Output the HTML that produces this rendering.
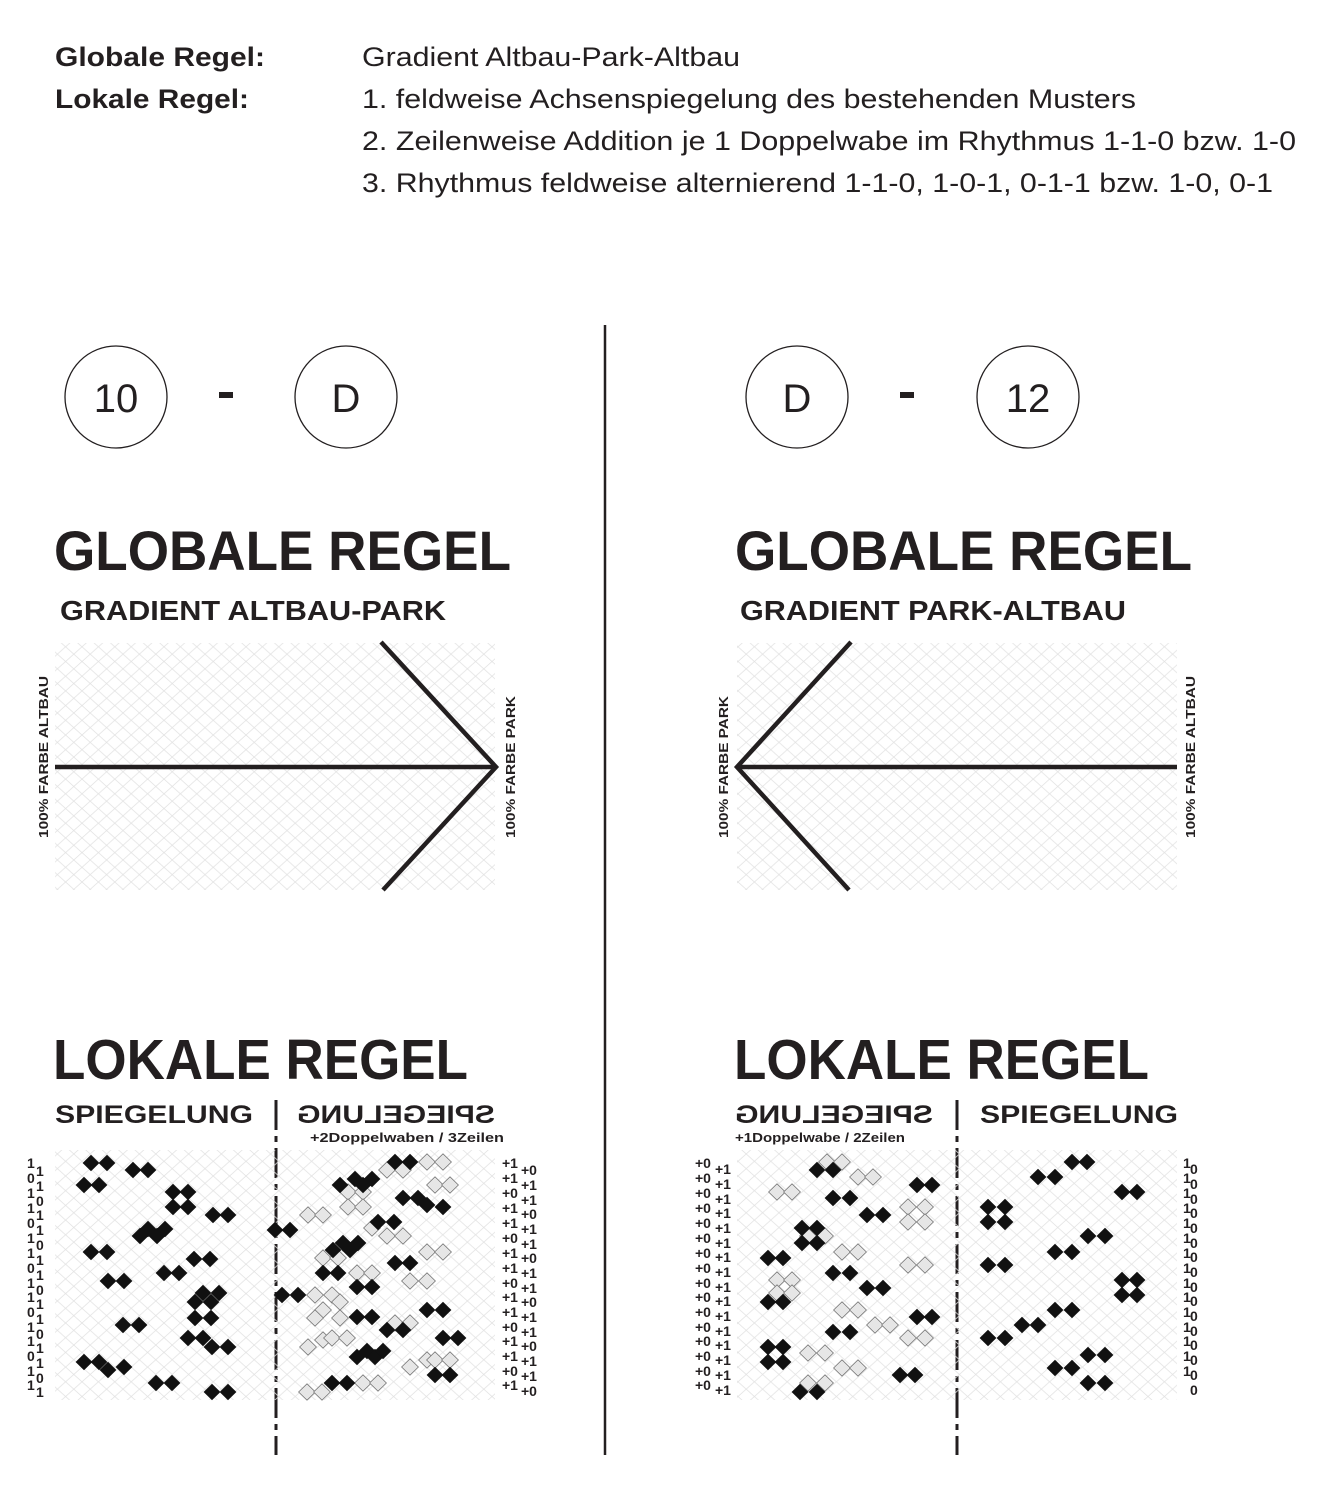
<!DOCTYPE html>
<html><head><meta charset="utf-8"><style>
html,body{margin:0;padding:0;background:#fff}
svg{display:block}
text{font-family:"Liberation Sans",Arial,sans-serif;fill:#231f20}
.b{font-weight:bold}
</style></head><body>
<svg width="1324" height="1500" viewBox="0 0 1324 1500" xmlns="http://www.w3.org/2000/svg">
<defs>
<pattern id="g" width="16.4" height="14.7" patternUnits="userSpaceOnUse">
<path d="M0,0 L16.4,14.7 M16.4,0 L0,14.7" stroke="#e2e2e2" stroke-width="0.8" fill="none"/>
</pattern>
<polygon id="d" points="0,-8.2 8.4,0 0,8.2 -8.4,0"/>
</defs>

<text class="b" x="55" y="66" font-size="27" textLength="210" lengthAdjust="spacingAndGlyphs">Globale Regel:</text>
<text class="b" x="55" y="108" font-size="27" textLength="194" lengthAdjust="spacingAndGlyphs">Lokale Regel:</text>
<text x="362" y="66" font-size="27" textLength="378" lengthAdjust="spacingAndGlyphs">Gradient Altbau-Park-Altbau</text>
<text x="362" y="108" font-size="27" textLength="774" lengthAdjust="spacingAndGlyphs">1. feldweise Achsenspiegelung des bestehenden Musters</text>
<text x="362" y="150" font-size="27" textLength="934" lengthAdjust="spacingAndGlyphs">2. Zeilenweise Addition je 1 Doppelwabe im Rhythmus 1-1-0 bzw. 1-0</text>
<text x="362" y="192" font-size="27" textLength="911" lengthAdjust="spacingAndGlyphs">3. Rhythmus feldweise alternierend 1-1-0, 1-0-1, 0-1-1 bzw. 1-0, 0-1</text>

<line x1="605" y1="325" x2="605" y2="1455" stroke="#231f20" stroke-width="2.5"/>

<g fill="none" stroke="#231f20" stroke-width="1.3">
<circle cx="116" cy="397" r="51"/><circle cx="346" cy="397" r="51"/>
<circle cx="797" cy="397" r="51"/><circle cx="1028" cy="397" r="51"/>
</g>
<g font-size="40" text-anchor="middle">
<text x="116" y="412">10</text><text x="346" y="412">D</text>
<text x="797" y="412">D</text><text x="1028" y="412">12</text>
</g>
<rect x="219" y="392" width="14" height="6" fill="#231f20"/>
<rect x="900" y="392" width="14" height="6" fill="#231f20"/>

<text class="b" x="54" y="570" font-size="56" textLength="457" lengthAdjust="spacingAndGlyphs">GLOBALE REGEL</text>
<text class="b" x="60" y="620" font-size="28" textLength="386" lengthAdjust="spacingAndGlyphs">GRADIENT ALTBAU-PARK</text>
<text class="b" x="735" y="570" font-size="56" textLength="457" lengthAdjust="spacingAndGlyphs">GLOBALE REGEL</text>
<text class="b" x="740" y="620" font-size="28" textLength="386" lengthAdjust="spacingAndGlyphs">GRADIENT PARK-ALTBAU</text>

<rect x="55" y="643" width="440" height="247" fill="url(#g)"/>
<rect x="737" y="643" width="440" height="247" fill="url(#g)"/>
<g stroke="#231f20" stroke-width="4.5" fill="none">
<line x1="55" y1="767" x2="495" y2="767"/>
<polyline points="381,642 496,767 383,890"/>
<line x1="737" y1="767" x2="1177" y2="767"/>
<polyline points="851,642 737,767 849,890"/>
</g>
<g class="b" font-size="12.5" font-weight="bold">
<text transform="translate(48,838) rotate(-90)" textLength="162" lengthAdjust="spacingAndGlyphs">100% FARBE ALTBAU</text>
<text transform="translate(515,838) rotate(-90)" textLength="142" lengthAdjust="spacingAndGlyphs">100% FARBE PARK</text>
<text transform="translate(728,838) rotate(-90)" textLength="142" lengthAdjust="spacingAndGlyphs">100% FARBE PARK</text>
<text transform="translate(1195,838) rotate(-90)" textLength="162" lengthAdjust="spacingAndGlyphs">100% FARBE ALTBAU</text>
</g>

<text class="b" x="53" y="1079" font-size="57" textLength="415" lengthAdjust="spacingAndGlyphs">LOKALE REGEL</text>
<text class="b" x="734" y="1079" font-size="57" textLength="415" lengthAdjust="spacingAndGlyphs">LOKALE REGEL</text>
<text class="b" x="55" y="1123" font-size="25" textLength="198" lengthAdjust="spacingAndGlyphs">SPIEGELUNG</text>
<text class="b" transform="translate(495,0) scale(-1,1)" x="0" y="1123" font-size="25" textLength="198" lengthAdjust="spacingAndGlyphs">SPIEGELUNG</text>
<text class="b" x="310" y="1142" font-size="12.5" textLength="194" lengthAdjust="spacingAndGlyphs">+2Doppelwaben / 3Zeilen</text>
<text class="b" transform="translate(933,0) scale(-1,1)" x="0" y="1123" font-size="25" textLength="198" lengthAdjust="spacingAndGlyphs">SPIEGELUNG</text>
<text class="b" x="735" y="1142" font-size="12.5" textLength="170" lengthAdjust="spacingAndGlyphs">+1Doppelwabe / 2Zeilen</text>
<text class="b" x="980" y="1123" font-size="25" textLength="198" lengthAdjust="spacingAndGlyphs">SPIEGELUNG</text>

<g stroke="#231f20" stroke-width="3" stroke-dasharray="30,6,6,6">
<line x1="276" y1="1100" x2="276" y2="1455"/>
<line x1="957" y1="1100" x2="957" y2="1455"/>
</g>

<rect x="55" y="1150" width="440" height="250" fill="url(#g)"/>
<rect x="737" y="1150" width="440" height="250" fill="url(#g)"/>

<g fill="#e6e6e6" stroke="#777" stroke-width="0.8">
<use href="#d" x="387" y="1170"/><use href="#d" x="403" y="1170"/><use href="#d" x="427" y="1162"/><use href="#d" x="443" y="1162"/>
<use href="#d" x="435" y="1185"/><use href="#d" x="450" y="1185"/>
<use href="#d" x="348" y="1192"/><use href="#d" x="363" y="1192"/><use href="#d" x="348" y="1207"/><use href="#d" x="363" y="1207"/>
<use href="#d" x="308" y="1215"/><use href="#d" x="323" y="1215"/>
<use href="#d" x="372" y="1228"/><use href="#d" x="387" y="1236"/><use href="#d" x="403" y="1236"/>
<use href="#d" x="427" y="1252"/><use href="#d" x="443" y="1252"/>
<use href="#d" x="323" y="1258"/><use href="#d" x="338" y="1258"/>
<use href="#d" x="357" y="1273"/><use href="#d" x="372" y="1273"/>
<use href="#d" x="410" y="1281"/><use href="#d" x="427" y="1281"/>
<use href="#d" x="315" y="1295"/><use href="#d" x="332" y="1295"/><use href="#d" x="340" y="1302"/><use href="#d" x="323" y="1310"/><use href="#d" x="340" y="1318"/><use href="#d" x="315" y="1318"/>
<use href="#d" x="395" y="1323"/><use href="#d" x="410" y="1323"/>
<use href="#d" x="308" y="1347"/><use href="#d" x="323" y="1340"/><use href="#d" x="332" y="1338"/><use href="#d" x="347" y="1338"/>
<use href="#d" x="410" y="1367"/><use href="#d" x="427" y="1360"/><use href="#d" x="435" y="1360"/><use href="#d" x="450" y="1360"/>
<use href="#d" x="363" y="1383"/><use href="#d" x="378" y="1383"/><use href="#d" x="307" y="1392"/><use href="#d" x="322" y="1392"/>

<use href="#d" x="827" y="1162"/><use href="#d" x="842" y="1162"/>
<use href="#d" x="858" y="1177"/><use href="#d" x="873" y="1177"/>
<use href="#d" x="777" y="1192"/><use href="#d" x="792" y="1192"/>
<use href="#d" x="908" y="1207"/><use href="#d" x="925" y="1207"/><use href="#d" x="908" y="1222"/><use href="#d" x="925" y="1222"/>
<use href="#d" x="808" y="1236"/><use href="#d" x="825" y="1236"/>
<use href="#d" x="842" y="1252"/><use href="#d" x="858" y="1252"/>
<use href="#d" x="908" y="1265"/><use href="#d" x="925" y="1265"/>
<use href="#d" x="777" y="1280"/><use href="#d" x="792" y="1280"/><use href="#d" x="777" y="1293"/><use href="#d" x="792" y="1293"/>
<use href="#d" x="842" y="1310"/><use href="#d" x="858" y="1310"/>
<use href="#d" x="875" y="1325"/><use href="#d" x="890" y="1325"/>
<use href="#d" x="908" y="1338"/><use href="#d" x="925" y="1338"/>
<use href="#d" x="808" y="1353"/><use href="#d" x="825" y="1353"/>
<use href="#d" x="842" y="1368"/><use href="#d" x="858" y="1368"/>
<use href="#d" x="808" y="1383"/><use href="#d" x="825" y="1383"/>
</g>

<g fill="#111">
<use href="#d" x="91" y="1163"/><use href="#d" x="107" y="1163"/>
<use href="#d" x="133" y="1170"/><use href="#d" x="148" y="1170"/>
<use href="#d" x="84" y="1185"/><use href="#d" x="99" y="1185"/>
<use href="#d" x="173" y="1192"/><use href="#d" x="188" y="1192"/><use href="#d" x="173" y="1207"/><use href="#d" x="188" y="1207"/>
<use href="#d" x="213" y="1215"/><use href="#d" x="228" y="1215"/>
<use href="#d" x="140" y="1236"/><use href="#d" x="148" y="1229"/><use href="#d" x="157" y="1236"/><use href="#d" x="165" y="1229"/>
<use href="#d" x="91" y="1252"/><use href="#d" x="107" y="1252"/>
<use href="#d" x="194" y="1259"/><use href="#d" x="210" y="1259"/>
<use href="#d" x="164" y="1273"/><use href="#d" x="179" y="1273"/>
<use href="#d" x="108" y="1281"/><use href="#d" x="124" y="1281"/>
<use href="#d" x="203" y="1293"/><use href="#d" x="219" y="1293"/><use href="#d" x="195" y="1302"/><use href="#d" x="211" y="1302"/><use href="#d" x="195" y="1318"/><use href="#d" x="211" y="1318"/>
<use href="#d" x="123" y="1325"/><use href="#d" x="139" y="1325"/>
<use href="#d" x="188" y="1338"/><use href="#d" x="203" y="1338"/><use href="#d" x="212" y="1347"/><use href="#d" x="228" y="1347"/>
<use href="#d" x="84" y="1362"/><use href="#d" x="99" y="1362"/><use href="#d" x="108" y="1370"/><use href="#d" x="124" y="1367"/>
<use href="#d" x="156" y="1383"/><use href="#d" x="172" y="1383"/>
<use href="#d" x="212" y="1392"/><use href="#d" x="228" y="1392"/>

<use href="#d" x="395" y="1162"/><use href="#d" x="410" y="1162"/>
<use href="#d" x="340" y="1185"/><use href="#d" x="355" y="1179"/><use href="#d" x="363" y="1185"/><use href="#d" x="372" y="1179"/>
<use href="#d" x="403" y="1198"/><use href="#d" x="418" y="1198"/><use href="#d" x="427" y="1205"/><use href="#d" x="443" y="1207"/>
<use href="#d" x="378" y="1222"/><use href="#d" x="394" y="1222"/>
<use href="#d" x="275" y="1230"/><use href="#d" x="290" y="1230"/>
<use href="#d" x="333" y="1250"/><use href="#d" x="343" y="1243"/><use href="#d" x="350" y="1250"/><use href="#d" x="358" y="1243"/>
<use href="#d" x="395" y="1263"/><use href="#d" x="410" y="1263"/>
<use href="#d" x="323" y="1273"/><use href="#d" x="338" y="1273"/>
<use href="#d" x="357" y="1287"/><use href="#d" x="372" y="1287"/>
<use href="#d" x="282" y="1295"/><use href="#d" x="298" y="1295"/>
<use href="#d" x="427" y="1310"/><use href="#d" x="443" y="1310"/>
<use href="#d" x="357" y="1317"/><use href="#d" x="372" y="1317"/>
<use href="#d" x="387" y="1330"/><use href="#d" x="403" y="1330"/>
<use href="#d" x="443" y="1338"/><use href="#d" x="458" y="1338"/>
<use href="#d" x="357" y="1357"/><use href="#d" x="367" y="1351"/><use href="#d" x="375" y="1357"/><use href="#d" x="383" y="1351"/>
<use href="#d" x="435" y="1375"/><use href="#d" x="450" y="1375"/>
<use href="#d" x="332" y="1383"/><use href="#d" x="347" y="1383"/>

<use href="#d" x="817" y="1170"/><use href="#d" x="833" y="1170"/>
<use href="#d" x="917" y="1185"/><use href="#d" x="932" y="1185"/>
<use href="#d" x="833" y="1198"/><use href="#d" x="850" y="1198"/>
<use href="#d" x="867" y="1215"/><use href="#d" x="883" y="1215"/>
<use href="#d" x="802" y="1228"/><use href="#d" x="817" y="1228"/><use href="#d" x="802" y="1243"/><use href="#d" x="817" y="1243"/>
<use href="#d" x="768" y="1258"/><use href="#d" x="783" y="1258"/>
<use href="#d" x="833" y="1273"/><use href="#d" x="850" y="1273"/>
<use href="#d" x="867" y="1288"/><use href="#d" x="883" y="1288"/>
<use href="#d" x="768" y="1302"/><use href="#d" x="783" y="1302"/>
<use href="#d" x="917" y="1317"/><use href="#d" x="932" y="1317"/>
<use href="#d" x="833" y="1332"/><use href="#d" x="850" y="1332"/>
<use href="#d" x="768" y="1347"/><use href="#d" x="783" y="1347"/><use href="#d" x="768" y="1362"/><use href="#d" x="783" y="1362"/>
<use href="#d" x="900" y="1375"/><use href="#d" x="915" y="1375"/>
<use href="#d" x="800" y="1392"/><use href="#d" x="817" y="1392"/>

<use href="#d" x="1072" y="1162"/><use href="#d" x="1087" y="1162"/>
<use href="#d" x="1038" y="1177"/><use href="#d" x="1055" y="1177"/>
<use href="#d" x="1122" y="1192"/><use href="#d" x="1137" y="1192"/>
<use href="#d" x="988" y="1207"/><use href="#d" x="1005" y="1207"/><use href="#d" x="988" y="1222"/><use href="#d" x="1005" y="1222"/>
<use href="#d" x="1088" y="1236"/><use href="#d" x="1105" y="1236"/>
<use href="#d" x="1055" y="1252"/><use href="#d" x="1072" y="1252"/>
<use href="#d" x="988" y="1265"/><use href="#d" x="1005" y="1265"/>
<use href="#d" x="1122" y="1280"/><use href="#d" x="1137" y="1280"/><use href="#d" x="1122" y="1295"/><use href="#d" x="1137" y="1295"/>
<use href="#d" x="1055" y="1310"/><use href="#d" x="1072" y="1310"/>
<use href="#d" x="1022" y="1325"/><use href="#d" x="1038" y="1325"/>
<use href="#d" x="988" y="1338"/><use href="#d" x="1005" y="1338"/>
<use href="#d" x="1088" y="1355"/><use href="#d" x="1105" y="1355"/>
<use href="#d" x="1055" y="1368"/><use href="#d" x="1072" y="1368"/>
<use href="#d" x="1088" y="1383"/><use href="#d" x="1105" y="1383"/>
</g>

<g class="b" font-size="14" font-weight="bold">
<text x="27" y="1168">1</text><text x="27" y="1183">0</text><text x="27" y="1198">1</text><text x="27" y="1213">1</text><text x="27" y="1228">0</text><text x="27" y="1243">1</text><text x="27" y="1258">1</text><text x="27" y="1273">0</text><text x="27" y="1288">1</text><text x="27" y="1302">1</text><text x="27" y="1317">0</text><text x="27" y="1332">1</text><text x="27" y="1346">1</text><text x="27" y="1361">0</text><text x="27" y="1376">1</text><text x="27" y="1390">1</text>
<text x="36" y="1176">1</text><text x="36" y="1191">1</text><text x="36" y="1206">0</text><text x="36" y="1220">1</text><text x="36" y="1235">1</text><text x="36" y="1250">0</text><text x="36" y="1265">1</text><text x="36" y="1280">1</text><text x="36" y="1295">0</text><text x="36" y="1309">1</text><text x="36" y="1324">1</text><text x="36" y="1339">0</text><text x="36" y="1353">1</text><text x="36" y="1368">1</text><text x="36" y="1383">0</text><text x="36" y="1397">1</text>

<text x="502" y="1168">+1</text><text x="502" y="1183">+1</text><text x="502" y="1198">+0</text><text x="502" y="1213">+1</text><text x="502" y="1228">+1</text><text x="502" y="1243">+0</text><text x="502" y="1258">+1</text><text x="502" y="1273">+1</text><text x="502" y="1288">+0</text><text x="502" y="1302">+1</text><text x="502" y="1317">+1</text><text x="502" y="1332">+0</text><text x="502" y="1346">+1</text><text x="502" y="1361">+1</text><text x="502" y="1376">+0</text><text x="502" y="1390">+1</text>
<text x="521" y="1175">+0</text><text x="521" y="1190">+1</text><text x="521" y="1205">+1</text><text x="521" y="1219">+0</text><text x="521" y="1234">+1</text><text x="521" y="1249">+1</text><text x="521" y="1263">+0</text><text x="521" y="1278">+1</text><text x="521" y="1293">+1</text><text x="521" y="1307">+0</text><text x="521" y="1322">+1</text><text x="521" y="1337">+1</text><text x="521" y="1351">+0</text><text x="521" y="1366">+1</text><text x="521" y="1381">+1</text><text x="521" y="1396">+0</text>

<text x="695" y="1168">+0</text><text x="695" y="1183">+0</text><text x="695" y="1198">+0</text><text x="695" y="1213">+0</text><text x="695" y="1228">+0</text><text x="695" y="1243">+0</text><text x="695" y="1258">+0</text><text x="695" y="1273">+0</text><text x="695" y="1288">+0</text><text x="695" y="1302">+0</text><text x="695" y="1317">+0</text><text x="695" y="1332">+0</text><text x="695" y="1346">+0</text><text x="695" y="1361">+0</text><text x="695" y="1376">+0</text><text x="695" y="1390">+0</text>
<text x="715" y="1174">+1</text><text x="715" y="1189">+1</text><text x="715" y="1204">+1</text><text x="715" y="1218">+1</text><text x="715" y="1233">+1</text><text x="715" y="1248">+1</text><text x="715" y="1262">+1</text><text x="715" y="1277">+1</text><text x="715" y="1292">+1</text><text x="715" y="1306">+1</text><text x="715" y="1321">+1</text><text x="715" y="1336">+1</text><text x="715" y="1350">+1</text><text x="715" y="1365">+1</text><text x="715" y="1380">+1</text><text x="715" y="1395">+1</text>

<text x="1183" y="1168">1</text><text x="1183" y="1183">1</text><text x="1183" y="1198">1</text><text x="1183" y="1213">1</text><text x="1183" y="1228">1</text><text x="1183" y="1243">1</text><text x="1183" y="1258">1</text><text x="1183" y="1273">1</text><text x="1183" y="1288">1</text><text x="1183" y="1302">1</text><text x="1183" y="1317">1</text><text x="1183" y="1332">1</text><text x="1183" y="1346">1</text><text x="1183" y="1361">1</text><text x="1183" y="1376">1</text>
<text x="1190" y="1174">0</text><text x="1190" y="1189">0</text><text x="1190" y="1204">0</text><text x="1190" y="1218">0</text><text x="1190" y="1233">0</text><text x="1190" y="1248">0</text><text x="1190" y="1262">0</text><text x="1190" y="1277">0</text><text x="1190" y="1292">0</text><text x="1190" y="1306">0</text><text x="1190" y="1321">0</text><text x="1190" y="1336">0</text><text x="1190" y="1350">0</text><text x="1190" y="1365">0</text><text x="1190" y="1380">0</text><text x="1190" y="1395">0</text>
</g>
</svg>
</body></html>
